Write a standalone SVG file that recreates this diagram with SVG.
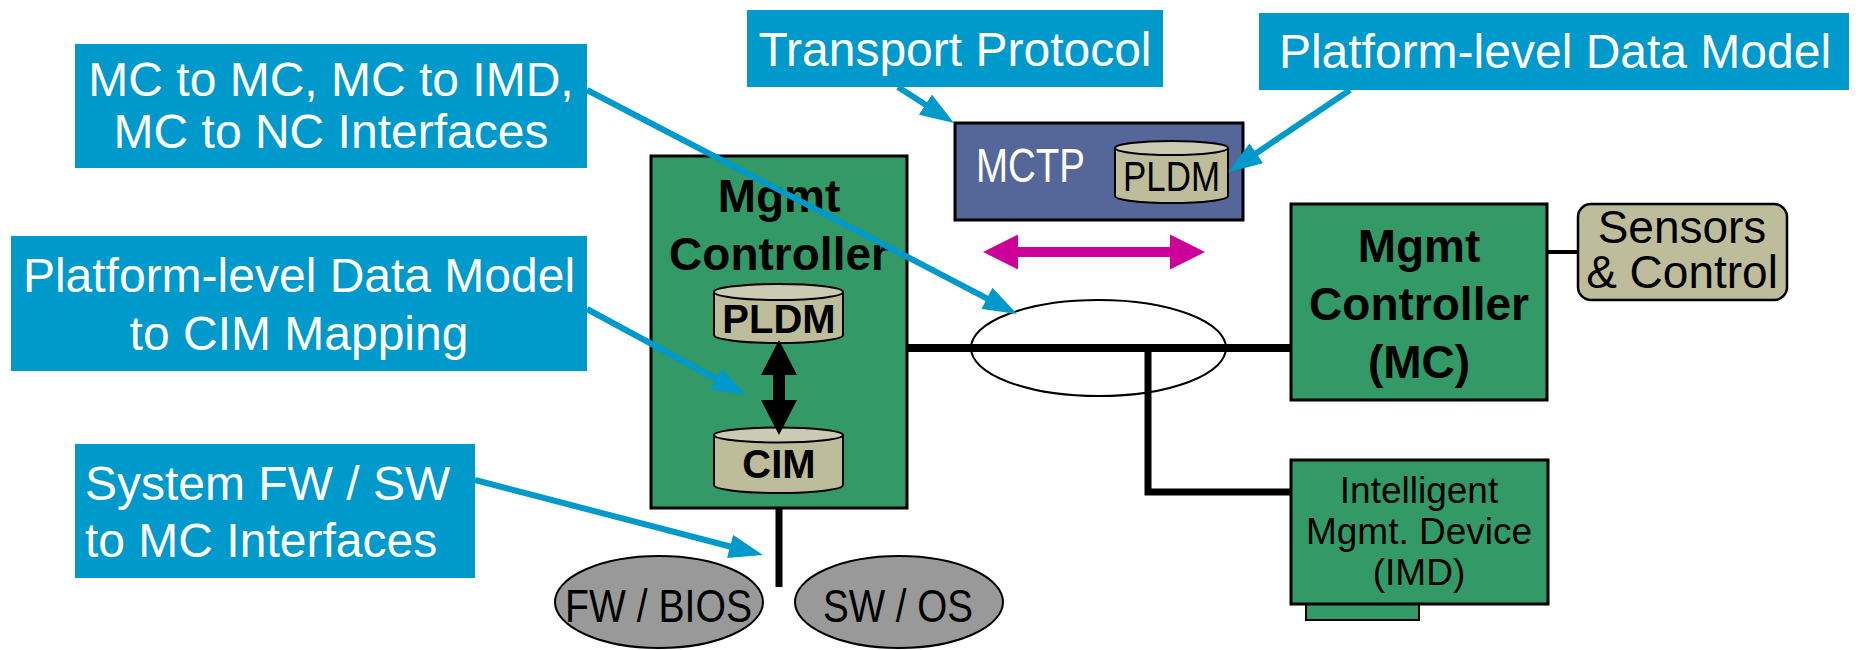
<svg xmlns="http://www.w3.org/2000/svg" width="1860" height="650" viewBox="0 0 1860 650">
  <defs>
    <style>
      .callout { fill: #0099CC; }
      .callout-text { font-family: "Liberation Sans", Arial, sans-serif; font-size: 48px; fill: #FFFFFF; }
      .green { fill: #339966; stroke: #000000; stroke-width: 3; }
      .bold-label { font-family: "Liberation Sans", Arial, sans-serif; font-size: 46px; font-weight: bold; fill: #000000; text-anchor: middle; }
      .db-body { fill: #BDBD9C; stroke: #000000; stroke-width: 2; }
      .db-top { fill: #CBCBB3; stroke: #000000; stroke-width: 2; }
      .db-bold { font-family: "Liberation Sans", Arial, sans-serif; font-size: 40px; font-weight: bold; fill: #000000; text-anchor: middle; }
      .narrow { font-family: "Liberation Sans", Arial, sans-serif; fill: #000000; }
      .sw-ellipse { fill: #999999; stroke: #000000; stroke-width: 2; }
      .wire { stroke: #000000; fill: none; }
      .pointer { stroke: #0099CC; stroke-width: 6; fill: none; marker-end: url(#blueHead); }
      .plain { font-family: "Liberation Sans", Arial, sans-serif; fill: #000000; text-anchor: middle; }
    </style>
    <marker id="blueHead" markerUnits="userSpaceOnUse" markerWidth="34" markerHeight="24" refX="14" refY="12" orient="auto">
      <path d="M0,0 L34,12 L0,24 z" fill="#0099CC"/>
    </marker>
  </defs>

  <!-- callout: interfaces between controllers -->
  <g id="callout-mc-interfaces">
    <rect class="callout" x="75" y="44" width="512" height="124"/>
    <text class="callout-text" x="331" y="96" text-anchor="middle">MC to MC, MC to IMD,</text>
    <text class="callout-text" x="331" y="148" text-anchor="middle">MC to NC Interfaces</text>
  </g>

  <!-- callout: data model mapping -->
  <g id="callout-pldm-cim">
    <rect class="callout" x="11" y="236" width="576" height="135"/>
    <text class="callout-text" x="299" y="292" text-anchor="middle">Platform-level Data Model</text>
    <text class="callout-text" x="299" y="350" text-anchor="middle">to CIM Mapping</text>
  </g>

  <!-- callout: host firmware/software interfaces -->
  <g id="callout-system-fw">
    <rect class="callout" x="75" y="444" width="400" height="134"/>
    <text class="callout-text" x="85" y="500">System FW / SW</text>
    <text class="callout-text" x="85" y="557">to MC Interfaces</text>
  </g>

  <!-- callout: transport -->
  <g id="callout-transport">
    <rect class="callout" x="747" y="10" width="416" height="77"/>
    <text class="callout-text" x="955" y="66" text-anchor="middle">Transport Protocol</text>
  </g>

  <!-- callout: data model -->
  <g id="callout-pldm">
    <rect class="callout" x="1259" y="13" width="590" height="77"/>
    <text class="callout-text" x="1555" y="68" text-anchor="middle">Platform-level Data Model</text>
  </g>

  <!-- local management controller with its data stores -->
  <g id="local-mc">
    <rect class="green" x="651" y="156" width="256" height="352"/>
    <text class="bold-label" x="779" y="212">Mgmt</text>
    <text class="bold-label" x="779" y="270">Controller</text>
    <g id="local-pldm">
      <path class="db-body" d="M714,292 V335 A64.5,8 0 0 0 843,335 V292 Z"/>
      <ellipse class="db-top" cx="778.5" cy="292" rx="64.5" ry="8"/>
      <text class="db-bold" x="779" y="333">PLDM</text>
    </g>
    <g id="local-cim">
      <path class="db-body" d="M714,435 V485 A64.5,8 0 0 0 843,485 V435 Z"/>
      <ellipse class="db-top" cx="778.5" cy="435" rx="64.5" ry="7.5"/>
      <text class="db-bold" x="779" y="478">CIM</text>
    </g>
  </g>

  <!-- transport layer carrying PLDM -->
  <g id="mctp">
    <rect x="955" y="123" width="288" height="97" fill="#556699" stroke="#000000" stroke-width="3"/>
    <text class="narrow" x="976" y="182" font-size="48" fill="#FFFFFF" style="fill:#FFFFFF" textLength="109" lengthAdjust="spacingAndGlyphs">MCTP</text>
    <g id="mctp-pldm">
      <path class="db-body" d="M1115,148 V196 A56.5,7 0 0 0 1228,196 V148 Z"/>
      <ellipse class="db-top" cx="1171.5" cy="148" rx="56.5" ry="7"/>
      <text class="narrow" x="1123" y="191" font-size="42" textLength="97" lengthAdjust="spacingAndGlyphs">PLDM</text>
    </g>
  </g>

  <!-- remote management controller -->
  <g id="remote-mc">
    <rect class="green" x="1291" y="204" width="256" height="196"/>
    <text class="bold-label" x="1419" y="262">Mgmt</text>
    <text class="bold-label" x="1419" y="320">Controller</text>
    <text class="bold-label" x="1419" y="378">(MC)</text>
  </g>

  <!-- sensors attached to the remote controller -->
  <g id="sensors">
    <rect x="1578" y="204" width="209" height="96" rx="13" ry="13" fill="#BDBD9C" stroke="#000000" stroke-width="2.5"/>
    <text class="plain" x="1682" y="243" font-size="46">Sensors</text>
    <text class="plain" x="1682" y="288" font-size="46">&amp; Control</text>
  </g>

  <!-- intelligent management device (card with edge connector) -->
  <g id="imd">
    <rect x="1306" y="604" width="113" height="16" fill="#339966" stroke="#000000" stroke-width="2"/>
    <rect class="green" x="1291" y="460" width="257" height="144"/>
    <text class="plain" x="1419" y="503" font-size="37">Intelligent</text>
    <text class="plain" x="1419" y="544" font-size="37">Mgmt. Device</text>
    <text class="plain" x="1419" y="585" font-size="37">(IMD)</text>
  </g>

  <!-- host firmware and software -->
  <g id="fw-bios">
    <ellipse class="sw-ellipse" cx="659" cy="602" rx="104" ry="46"/>
    <text class="narrow" x="565" y="622" font-size="46" textLength="187" lengthAdjust="spacingAndGlyphs">FW / BIOS</text>
  </g>
  <g id="sw-os">
    <ellipse class="sw-ellipse" cx="899" cy="602" rx="104" ry="46"/>
    <text class="narrow" x="823" y="622" font-size="46" textLength="150" lengthAdjust="spacingAndGlyphs">SW / OS</text>
  </g>

  <!-- connectors -->
  <g id="connectors">
    <!-- management bus and its highlight ring -->
    <ellipse cx="1098.5" cy="348" rx="127.5" ry="48" fill="none" stroke="#000000" stroke-width="2"/>
    <line class="wire" x1="907" y1="348" x2="1291" y2="348" stroke-width="8"/>
    <path class="wire" d="M1148,348 V492 H1291" stroke-width="7"/>
    <line class="wire" x1="779" y1="508" x2="779" y2="587" stroke-width="7"/>
    <line class="wire" x1="1547" y1="252" x2="1578" y2="252" stroke-width="4"/>

    <!-- PLDM to CIM exchange -->
    <polygon points="779,340 797,375 785,375 785,400 797,400 779,435 761,400 773,400 773,375 761,375" fill="#000000"/>

    <!-- bidirectional transport -->
    <polygon points="983,252 1018,234.5 1018,247 1170,247 1170,234.5 1205,252 1170,269.5 1170,257 1018,257 1018,269.5" fill="#CC0099"/>

    <!-- callout pointers -->
    <line class="pointer" x1="587" y1="90" x2="999.3" y2="304.8"/>
    <line class="pointer" x1="587" y1="309" x2="728.4" y2="385.5"/>
    <line class="pointer" x1="475" y1="480" x2="743.6" y2="550"/>
    <line class="pointer" x1="898" y1="87" x2="937.2" y2="112.2"/>
    <line class="pointer" x1="1350" y1="90" x2="1244.7" y2="161"/>
  </g>
</svg>
